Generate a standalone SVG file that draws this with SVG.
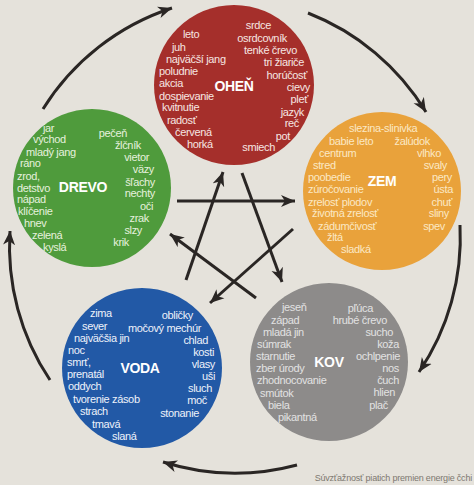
<svg xmlns="http://www.w3.org/2000/svg" width="474" height="485" viewBox="0 0 474 485">
<defs>
<style>
.t{font-family:"Liberation Sans",Arial,sans-serif;font-size:11px;letter-spacing:-0.35px}
.e{text-anchor:end}
.lb{font-family:"Liberation Sans",Arial,sans-serif;font-size:14px;font-weight:bold;text-anchor:middle;fill:#ffffff;letter-spacing:-0.3px}
.fire text.t{fill:#f6e6e2}
.earth text.t{fill:#fbe8c4}
.wood text.t{fill:#e6f1de}
.water text.t{fill:#eef2fa}
.metal text.t{fill:#e2e2e2}
.con{fill:none;stroke:#2a2624;stroke-width:3;marker-end:url(#ah)}
.cap{font-family:"Liberation Sans",Arial,sans-serif;font-size:9px;fill:#7d7870;text-anchor:end;letter-spacing:-0.2px}
</style>
<marker id="ah" markerUnits="userSpaceOnUse" markerWidth="16" markerHeight="14" refX="14" refY="6.5" orient="auto">
<path d="M0,0.5 L14,6.5 L0,12.5 L4,6.5 Z" fill="#2a2624"/>
</marker>
</defs>
<rect width="474" height="485" fill="#e5e2db"/>

<g id="connectors">
<path class="con" d="M43,109 A240,240 0 0 1 172,8"/>
<path class="con" d="M308,13 A240,240 0 0 1 426,112"/>
<path class="con" d="M460,225 A240,240 0 0 1 419,372"/>
<path class="con" d="M297,465 A240,240 0 0 1 163,462"/>
<path class="con" d="M50,380 A240,240 0 0 1 10,231"/>
<path class="con" d="M177,201 L295,201"/>
<path class="con" d="M186,280 L223,172"/>
<path class="con" d="M242,173 L282,282"/>
<path class="con" d="M293,229 L210,303"/>
<path class="con" d="M256,298 L170,234"/>
</g>

<g id="ohen" class="fire">
<circle cx="234" cy="85" r="80" fill="#a52f2b"/>
<text class="lb" x="234" y="91">OHEŇ</text>
<text class="t" x="183" y="37.5">leto</text>
<text class="t" x="172" y="50.5">juh</text>
<text class="t" x="166" y="62.5">najväčší jang</text>
<text class="t" x="159" y="74.5">poludnie</text>
<text class="t" x="159" y="86.5">akcia</text>
<text class="t" x="159" y="99.5">dospievanie</text>
<text class="t" x="162" y="110.5">kvitnutie</text>
<text class="t" x="167" y="123.5">radosť</text>
<text class="t" x="175" y="135.5">červená</text>
<text class="t" x="187" y="147.5">horká</text>
<text class="t e" x="271" y="28.5">srdce</text>
<text class="t e" x="287" y="41.5">osrdcovník</text>
<text class="t e" x="297" y="53.5">tenké črevo</text>
<text class="t e" x="304" y="65.5">tri žiariče</text>
<text class="t e" x="307" y="78.5">horúčosť</text>
<text class="t e" x="310" y="90.5">cievy</text>
<text class="t e" x="308" y="102.5">pleť</text>
<text class="t e" x="304" y="115.5">jazyk</text>
<text class="t e" x="299" y="126.5">reč</text>
<text class="t e" x="290" y="139.5">pot</text>
<text class="t e" x="275" y="150.5">smiech</text>
</g>

<g id="zem" class="earth">
<circle cx="382" cy="191" r="79" fill="#e9a23b"/>
<text class="lb" x="382" y="186">ZEM</text>
<text class="t" x="349" y="131.5">slezina-slinivka</text>
<text class="t" x="329" y="144.5">babie leto</text>
<text class="t" x="319" y="156.5">centrum</text>
<text class="t" x="313" y="168.5">stred</text>
<text class="t" x="308" y="180.5">poobedie</text>
<text class="t" x="308" y="192.5">zúročovanie</text>
<text class="t" x="308" y="205.5">zrelosť plodov</text>
<text class="t" x="312" y="216.5">životná zrelosť</text>
<text class="t" x="318" y="229.5">zádumčivosť</text>
<text class="t" x="327" y="240.5">žltá</text>
<text class="t" x="341" y="252.5">sladká</text>
<text class="t e" x="430" y="144.5">žalúdok</text>
<text class="t e" x="441" y="156.5">vlhko</text>
<text class="t e" x="447" y="168.5">svaly</text>
<text class="t e" x="452" y="180.5">pery</text>
<text class="t e" x="453" y="192.5">ústa</text>
<text class="t e" x="452" y="205.5">chuť</text>
<text class="t e" x="449" y="216.5">sliny</text>
<text class="t e" x="445" y="229.5">spev</text>
</g>

<g id="drevo" class="wood">
<circle cx="92" cy="188" r="79" fill="#4f9b3c"/>
<text class="lb" x="83" y="192">DREVO</text>
<text class="t" x="43" y="131.5">jar</text>
<text class="t" x="33" y="142.5">východ</text>
<text class="t" x="26" y="155.5">mladý jang</text>
<text class="t" x="20" y="166.5">ráno</text>
<text class="t" x="17" y="179.5">zrod,</text>
<text class="t" x="17" y="191.5">detstvo</text>
<text class="t" x="17" y="202.5">nápad</text>
<text class="t" x="18" y="214.5">klíčenie</text>
<text class="t" x="24" y="226.5">hnev</text>
<text class="t" x="32" y="238.5">zelená</text>
<text class="t" x="43" y="250.5">kyslá</text>
<text class="t e" x="127" y="136.5">pečeň</text>
<text class="t e" x="141" y="148.5">žlčník</text>
<text class="t e" x="149" y="160.5">vietor</text>
<text class="t e" x="154" y="172.5">väzy</text>
<text class="t e" x="155" y="185.5">šľachy</text>
<text class="t e" x="155" y="196.5">nechty</text>
<text class="t e" x="153" y="209.5">oči</text>
<text class="t e" x="149" y="221.5">zrak</text>
<text class="t e" x="142" y="233.5">slzy</text>
<text class="t e" x="129" y="245.5">krik</text>
</g>

<g id="voda" class="water">
<circle cx="142" cy="368" r="80" fill="#2259a6"/>
<text class="lb" x="140" y="373">VODA</text>
<text class="t" x="90" y="316.5">zima</text>
<text class="t" x="82" y="329.5">sever</text>
<text class="t" x="74" y="341.5">najväčšia jin</text>
<text class="t" x="68" y="353.5">noc</text>
<text class="t" x="67" y="365.5">smrť,</text>
<text class="t" x="67" y="377.5">prenatál</text>
<text class="t" x="68" y="389.5">oddych</text>
<text class="t" x="73" y="402.5">tvorenie zásob</text>
<text class="t" x="80" y="414.5">strach</text>
<text class="t" x="92" y="427.5">tmavá</text>
<text class="t" x="112" y="439.5">slaná</text>
<text class="t e" x="193" y="318.5">obličky</text>
<text class="t e" x="201" y="331.5">močový mechúr</text>
<text class="t e" x="208" y="343.5">chlad</text>
<text class="t e" x="214" y="355.5">kosti</text>
<text class="t e" x="215" y="367.5">vlasy</text>
<text class="t e" x="215" y="379.5">uši</text>
<text class="t e" x="212" y="391.5">sluch</text>
<text class="t e" x="207" y="403.5">moč</text>
<text class="t e" x="199" y="416.5">stonanie</text>
</g>

<g id="kov" class="metal">
<circle cx="329" cy="362" r="79" fill="#8d8b8a"/>
<text class="lb" x="329" y="367">KOV</text>
<text class="t" x="282" y="310.5">jeseň</text>
<text class="t" x="271" y="323.5">západ</text>
<text class="t" x="263" y="335.5">mladá jin</text>
<text class="t" x="257" y="347.5">súmrak</text>
<text class="t" x="256" y="359.5">starnutie</text>
<text class="t" x="256" y="371.5">zber úrody</text>
<text class="t" x="257" y="383.5">zhodnocovanie</text>
<text class="t" x="260" y="396.5">smútok</text>
<text class="t" x="268" y="408.5">biela</text>
<text class="t" x="278" y="420.5">pikantná</text>
<text class="t e" x="373" y="311.5">pľúca</text>
<text class="t e" x="387" y="323.5">hrubé črevo</text>
<text class="t e" x="393" y="335.5">sucho</text>
<text class="t e" x="399" y="347.5">koža</text>
<text class="t e" x="400" y="359.5">ochlpenie</text>
<text class="t e" x="399" y="371.5">nos</text>
<text class="t e" x="399" y="383.5">čuch</text>
<text class="t e" x="395" y="395.5">hlien</text>
<text class="t e" x="388" y="408.5">plač</text>
</g>

<text class="cap" x="472" y="481">Súvzťažnosť piatich premien energie čchi</text>
</svg>
